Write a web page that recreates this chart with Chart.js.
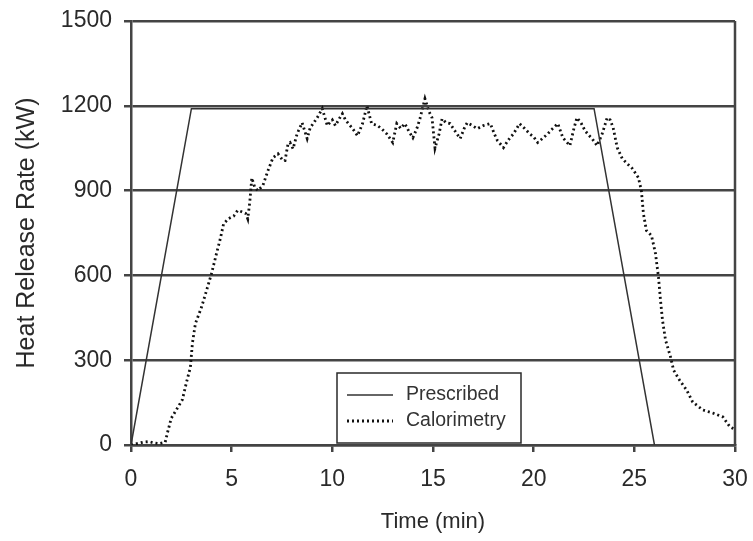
<!DOCTYPE html>
<html>
<head>
<meta charset="utf-8">
<script src="https://cdn.jsdelivr.net/npm/chart.js@4"></script>
<style>
  html, body { margin: 0; padding: 0; background: #fff; }
  #wrap { width: 753px; height: 541px; }
</style>
</head>
<body>
<div id="wrap"><canvas id="hrr"></canvas></div>
<script>
// Heat release rate: prescribed vs calorimetry

const prescribedTime = [0, 3, 23, 26];
const prescribedHrr  = [0, 1190, 1190, 0];

const calTime = [
  0, 0.3, 0.6, 0.9, 1.1, 1.4, 1.7, 1.8, 2.0, 2.3,
  2.55, 2.75, 2.95, 3.05, 3.2, 3.5, 3.8, 4.0, 4.25, 4.45,
  4.6, 4.85, 5.1, 5.3, 5.5, 5.7, 5.8, 5.9, 6.0, 6.15,
  6.3, 6.55, 6.8, 7.05, 7.3, 7.55, 7.65, 7.8, 7.9, 8.05,
  8.25, 8.5, 8.75, 8.9, 9.05, 9.25, 9.5, 9.75, 10.0, 10.15,
  10.35, 10.5, 10.65, 10.8, 11.0, 11.25, 11.5, 11.72, 11.95, 12.25,
  12.5, 12.7, 13.0, 13.2, 13.4, 13.6, 13.8, 14.0, 14.2, 14.35,
  14.6, 14.8, 14.95, 15.1, 15.3, 15.45, 15.65, 15.85, 16.1, 16.35,
  16.55, 16.7, 16.95, 17.2, 17.5, 17.85, 18.05, 18.2, 18.5, 18.75,
  19.0, 19.3, 19.55, 19.8, 20.0, 20.2, 20.45, 20.7, 20.95, 21.2,
  21.45, 21.8, 22.0, 22.15, 22.35, 22.55, 22.75, 22.9, 23.15, 23.4,
  23.65, 23.8, 23.95, 24.15, 24.4, 24.65, 24.9, 25.2, 25.35, 25.45,
  25.6, 25.85, 26.05, 26.2, 26.3, 26.4, 26.55, 26.8, 26.95, 27.25,
  27.6, 27.9, 28.4, 28.9, 29.4, 29.75, 30
];
const calHrr = [
  0, 5, 10, 12, 8, 5, 10, 40, 95, 130,
  160, 220, 275, 360, 430, 487, 558, 607, 678, 734,
  783, 801, 810, 830, 825, 819, 800, 860, 945, 911,
  900, 918, 970, 1016, 1030, 1006, 1006, 1066, 1070, 1048,
  1101, 1140, 1084, 1122, 1137, 1158, 1190, 1130, 1150, 1130,
  1155, 1172, 1150, 1137, 1120, 1094, 1137, 1200, 1137, 1130,
  1115, 1101, 1070, 1137, 1120, 1137, 1110, 1087, 1120, 1154,
  1225, 1180, 1158, 1050, 1100, 1154, 1140, 1137, 1110, 1084,
  1120, 1140, 1130, 1119, 1130, 1137, 1100, 1077, 1052, 1080,
  1101, 1137, 1120, 1101, 1090, 1070, 1085, 1101, 1120, 1137,
  1087, 1059, 1120, 1158, 1140, 1112, 1095, 1084, 1059, 1100,
  1158, 1150, 1122, 1052, 1013, 995, 978, 946, 900, 819,
  759, 741, 678, 593, 512, 441, 371, 311, 265, 229,
  194, 152, 124, 113, 99, 64, 55
];

const seriesNames = ['Prescribed', 'Calorimetry'];
const xTitle = 'Time (min)';
const yTitle = 'Heat Release Rate (kW)';

const INK = '#2a2a2a';
const GRID = '#444';
const FONT = '"Liberation Sans", Arial, sans-serif';

function toPoints(xs, ys) {
  return xs.map((x, i) => ({ x: x, y: ys[i] }));
}

// frame on the right edge of the plot
const frame = {
  id: 'frame',
  afterDraw(chart) {
    const { ctx, chartArea: a } = chart;
    ctx.save();
    ctx.strokeStyle = GRID;
    ctx.lineWidth = 2.5;
    ctx.beginPath();
    ctx.moveTo(a.right, a.top);
    ctx.lineTo(a.right, a.bottom);
    ctx.stroke();
    ctx.restore();
  }
};

// boxed legend inside the plot, near the bottom centre
const boxLegend = {
  id: 'boxLegend',
  afterDatasetsDraw(chart) {
    const { ctx, chartArea: a } = chart;
    const left = a.left + 206, top = a.bottom - 72, w = 184, h = 70;
    ctx.save();
    ctx.fillStyle = '#fff';
    ctx.fillRect(left, top, w, h);
    ctx.strokeStyle = INK;
    ctx.lineWidth = 1.5;
    ctx.strokeRect(left, top, w, h);
    ctx.font = '19.5px ' + FONT;
    ctx.textBaseline = 'middle';
    chart.data.datasets.forEach((ds, i) => {
      const y = top + 22 + i * 26;
      ctx.strokeStyle = ds.borderColor;
      ctx.lineWidth = ds.borderWidth;
      ctx.setLineDash(ds.borderDash || []);
      ctx.beginPath();
      ctx.moveTo(left + 10, y);
      ctx.lineTo(left + 56, y);
      ctx.stroke();
      ctx.setLineDash([]);
      ctx.fillStyle = '#333';
      ctx.fillText(ds.label, left + 69, y);
    });
    ctx.restore();
  }
};

new Chart(document.getElementById('hrr'), {
  type: 'line',
  data: {
    datasets: [
      {
        label: seriesNames[0],
        data: toPoints(prescribedTime, prescribedHrr),
        borderColor: '#333',
        borderWidth: 1.5,
        pointRadius: 0,
        tension: 0
      },
      {
        label: seriesNames[1],
        data: toPoints(calTime, calHrr),
        borderColor: '#111',
        borderWidth: 2.8,
        borderDash: [2, 3],
        pointRadius: 0,
        tension: 0
      }
    ]
  },
  options: {
    responsive: true,
    maintainAspectRatio: false,
    animation: false,
    layout: { padding: { top: 21, right: 18, bottom: 0, left: 0 } },
    plugins: {
      legend: { display: false },
      tooltip: { enabled: false }
    },
    scales: {
      x: {
        type: 'linear',
        min: 0,
        max: 30,
        ticks: { stepSize: 5, color: INK, font: { family: FONT, size: 23 }, padding: 14 },
        grid: { drawOnChartArea: false, color: GRID, lineWidth: 2.5, tickLength: 7 },
        border: { color: GRID, width: 2.5 },
        title: { display: true, text: xTitle, color: INK, font: { family: FONT, size: 22 }, padding: { top: 0, bottom: 6 } },
        afterFit(s) { s.height = 96; s.paddingLeft = 0; s.paddingRight = 0; }
      },
      y: {
        min: 0,
        max: 1500,
        ticks: {
          stepSize: 300, color: INK, font: { family: FONT, size: 23 }, padding: 12,
          callback: v => String(v)
        },
        grid: { color: GRID, lineWidth: 2.5, tickLength: 7 },
        border: { color: GRID, width: 2.5 },
        title: { display: true, text: yTitle, color: INK, font: { family: FONT, size: 25 }, padding: { top: 12, bottom: 0 } },
        afterFit(s) { s.width = 131; s.paddingTop = 0; s.paddingBottom = 0; }
      }
    }
  },
  plugins: [frame, boxLegend]
});
</script>
</body>
</html>
